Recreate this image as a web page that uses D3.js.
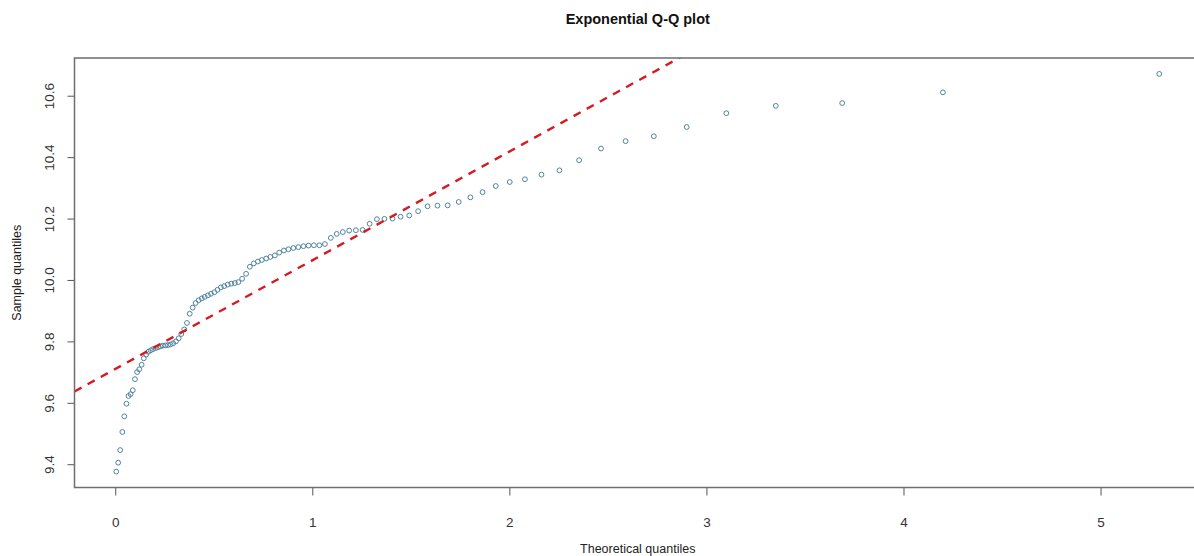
<!DOCTYPE html>
<html>
<head>
<meta charset="utf-8">
<script src="https://cdn.jsdelivr.net/npm/d3@7/dist/d3.min.js"></script>
<style>
  html, body { margin: 0; padding: 0; background: #fff; }
  svg { display: block; }
  text { font-family: "Liberation Sans", Arial, sans-serif; }
</style>
</head>
<body>
<svg id="chart" width="1194" height="556"></svg>
<script>
// Theoretical exponential quantiles (n = 100)
const theoretical = [
  0.005, 0.015, 0.025, 0.036, 0.046, 0.057, 0.067, 0.078, 0.089, 0.100,
  0.111, 0.122, 0.134, 0.145, 0.157, 0.168, 0.180, 0.192, 0.205, 0.217,
  0.229, 0.242, 0.255, 0.268, 0.281, 0.294, 0.308, 0.322, 0.335, 0.350,
  0.364, 0.378, 0.393, 0.408, 0.423, 0.439, 0.454, 0.470, 0.486, 0.503,
  0.519, 0.536, 0.553, 0.571, 0.589, 0.607, 0.625, 0.644, 0.664, 0.683,
  0.703, 0.724, 0.744, 0.766, 0.787, 0.810, 0.832, 0.856, 0.879, 0.904,
  0.929, 0.955, 0.981, 1.008, 1.036, 1.064, 1.094, 1.124, 1.155, 1.187,
  1.221, 1.255, 1.291, 1.328, 1.366, 1.407, 1.448, 1.492, 1.537, 1.585,
  1.635, 1.687, 1.743, 1.802, 1.864, 1.931, 2.002, 2.079, 2.163, 2.254,
  2.354, 2.465, 2.590, 2.733, 2.900, 3.101, 3.352, 3.689, 4.200, 5.298
];

// Sorted sample values
const sample = [
  9.376, 9.405, 9.446, 9.505, 9.556, 9.597, 9.622, 9.628, 9.641, 9.677,
  9.700, 9.709, 9.724, 9.745, 9.757, 9.766, 9.771, 9.775, 9.778, 9.781,
  9.784, 9.786, 9.787, 9.788, 9.790, 9.794, 9.800, 9.810, 9.824, 9.839,
  9.860, 9.890, 9.910, 9.925, 9.934, 9.940, 9.945, 9.950, 9.955, 9.960,
  9.968, 9.976, 9.980, 9.985, 9.988, 9.990, 9.993, 10.004, 10.020, 10.043,
  10.054, 10.060, 10.065, 10.070, 10.075, 10.080, 10.089, 10.096, 10.100, 10.104,
  10.107, 10.110, 10.112, 10.113, 10.113, 10.117, 10.137, 10.150, 10.156, 10.161,
  10.162, 10.163, 10.183, 10.198, 10.199, 10.200, 10.206, 10.210, 10.224, 10.240,
  10.242, 10.243, 10.254, 10.269, 10.286, 10.306, 10.319, 10.328, 10.343, 10.357,
  10.390, 10.428, 10.452, 10.468, 10.498, 10.543, 10.567, 10.576, 10.611, 10.671
];

// Reference line through the quartiles
const lineIntercept = 9.71;
const lineSlope = 0.354;

const xTicks = [0, 1, 2, 3, 4, 5];
const yTicks = [9.4, 9.6, 9.8, 10.0, 10.2, 10.4, 10.6];

const titleText = "Exponential Q-Q plot";
const xLabel = "Theoretical quantiles";
const yLabel = "Sample quantiles";

// Plot region
const plot = { left: 74.5, right: 1201, top: 58, bottom: 487.5 };

// Axis limits padded by 4% of the data range on each side
function padded(values) {
  const [lo, hi] = d3.extent(values);
  const pad = (hi - lo) * 0.04;
  return [lo - pad, hi + pad];
}

const x = d3.scaleLinear().domain(padded(theoretical)).range([plot.left, plot.right]);
const y = d3.scaleLinear().domain(padded(sample)).range([plot.bottom, plot.top]);

const svg = d3.select("#chart");

svg.append("defs").append("clipPath").attr("id", "plot-clip")
  .append("rect")
  .attr("x", plot.left).attr("y", plot.top)
  .attr("width", plot.right - plot.left).attr("height", plot.bottom - plot.top);

// Title
svg.append("text")
  .attr("x", (plot.left + plot.right) / 2)
  .attr("y", 24)
  .attr("text-anchor", "middle")
  .attr("font-size", 14.5)
  .attr("font-weight", "bold")
  .attr("fill", "#111")
  .text(titleText);

// X axis
const xAxis = svg.append("g")
  .attr("transform", `translate(0,${plot.bottom})`)
  .call(d3.axisBottom(x).tickValues(xTicks).tickFormat(d3.format("d")).tickSize(8).tickPadding(22));
xAxis.select(".domain").remove();
xAxis.selectAll(".tick line").attr("stroke", "#555").attr("stroke-width", 1);
xAxis.selectAll(".tick text")
  .attr("font-size", 13.5)
  .attr("fill", "#333")
  .attr("font-family", "'Liberation Sans', Arial, sans-serif");

// Y axis (labels rotated parallel to the axis)
const yAxis = svg.append("g")
  .attr("transform", `translate(${plot.left},0)`)
  .call(d3.axisLeft(y).tickValues(yTicks).tickFormat(d3.format(".1f")).tickSize(7));
yAxis.select(".domain").remove();
yAxis.selectAll(".tick line").attr("stroke", "#555").attr("stroke-width", 1);
yAxis.selectAll(".tick text")
  .attr("x", null).attr("dy", null)
  .attr("transform", "translate(-21,0) rotate(-90)")
  .attr("text-anchor", "middle")
  .attr("font-size", 13.5)
  .attr("fill", "#333")
  .attr("font-family", "'Liberation Sans', Arial, sans-serif");

// Axis titles
svg.append("text")
  .attr("x", (plot.left + plot.right) / 2)
  .attr("y", 553)
  .attr("text-anchor", "middle")
  .attr("font-size", 12.5)
  .attr("fill", "#222")
  .text(xLabel);

svg.append("text")
  .attr("transform", `translate(21,${(plot.top + plot.bottom) / 2}) rotate(-90)`)
  .attr("text-anchor", "middle")
  .attr("font-size", 12.5)
  .attr("fill", "#222")
  .text(yLabel);

// Sample points
svg.append("g")
  .selectAll("circle")
  .data(theoretical.map((t, i) => [t, sample[i]]))
  .join("circle")
  .attr("cx", d => x(d[0]))
  .attr("cy", d => y(d[1]))
  .attr("r", 2.4)
  .attr("fill", "none")
  .attr("stroke", "#4f849e")
  .attr("stroke-width", 1);

// Dashed reference line, clipped to the plot region
const [x0, x1] = x.domain();
svg.append("line")
  .attr("clip-path", "url(#plot-clip)")
  .attr("x1", x(x0)).attr("y1", y(lineIntercept + lineSlope * x0))
  .attr("x2", x(x1)).attr("y2", y(lineIntercept + lineSlope * x1))
  .attr("stroke", "#d61a21")
  .attr("stroke-width", 2.4)
  .attr("stroke-dasharray", "8,7");

// Plot frame
svg.append("rect")
  .attr("x", plot.left).attr("y", plot.top)
  .attr("width", plot.right - plot.left).attr("height", plot.bottom - plot.top)
  .attr("fill", "none")
  .attr("stroke", "#6e6e6e")
  .attr("stroke-width", 1.5);
</script>
</body>
</html>
